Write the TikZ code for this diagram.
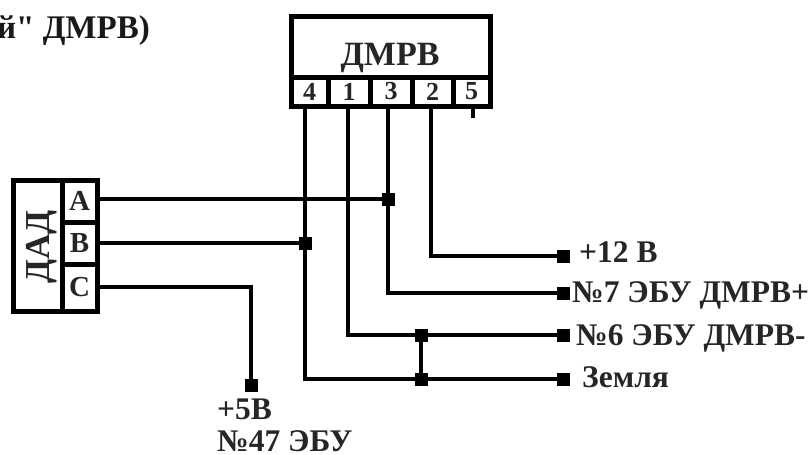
\documentclass[tikz,border=0pt]{standalone}
\usepackage{fontspec}
\setmainfont{Liberation Serif}
\newfontfamily\rawserif{Liberation Serif}
\begin{document}
\begin{tikzpicture}[x=1pt,y=-1pt,
  wire/.style={line width=4.7pt,line cap=butt,line join=miter,black},
  box/.style={draw=black,line width=5pt,inner sep=0pt,outer sep=0pt,anchor=north west,fill=white},
  pin/.style={box,font=\bfseries\fontsize{26}{26}\selectfont,text=black!85},
  dot/.style={fill=black,inner sep=0pt,outer sep=0pt,minimum size=13pt,shape=rectangle},
  lab/.style={font=\bfseries\fontsize{31.5}{33}\selectfont,text=black!85,anchor=base west,inner sep=0pt}]
\useasboundingbox (0,0) rectangle (812,455);
\node[font=\rawserif\bfseries\fontsize{33}{35}\selectfont,text=black!90,anchor=base east,inner sep=0pt] (title) at (150,38) {й" ДМРВ)};
% DMRV
\node[box,minimum width=199pt,minimum height=61pt] (dmrv) at (291,16) {};
\node[font=\bfseries\fontsize{34}{34}\selectfont,text=black!85,anchor=base,inner sep=0pt] (dmrvt) at (390,65) {ДМРВ};
\node[pin,minimum width=37pt,minimum height=29pt] (p4) at (291,77) {4};
\node[pin,minimum width=42pt,minimum height=29pt] (p1) at (328,77) {1};
\node[pin,minimum width=42pt,minimum height=29pt] (p3) at (370,77) {3};
\node[pin,minimum width=41pt,minimum height=29pt] (p2) at (412,77) {2};
\node[pin,minimum width=37pt,minimum height=29pt] (p5) at (453,77) {5};
% DAD
\node[box,minimum width=49pt,minimum height=131pt] (dadbody) at (13,180) {};
\node[font=\bfseries\fontsize{35}{35}\selectfont,text=black!85,rotate=90,anchor=base,inner sep=0pt] (dad) at (49,247) {ДАД};
\node[pin,font=\bfseries\fontsize{29}{29}\selectfont,minimum width=35pt,minimum height=42pt] (pa) at (62,180) {А};
\node[pin,font=\bfseries\fontsize{29}{29}\selectfont,minimum width=35pt,minimum height=42pt] (pb) at (62,222) {В};
\node[pin,font=\bfseries\fontsize{29}{29}\selectfont,minimum width=35pt,minimum height=47pt] (pc) at (62,264) {С};
% junctions
\node[dot] (ja) at (388,199) {};
\node[dot] (jb) at (305,243) {};
\node[dot] (j6) at (421,335) {};
\node[dot] (jg) at (421,379) {};
\node[dot] (t5) at (251,385) {};
\node[dot] (t12) at (563,256) {};
\node[dot] (t7) at (563,293) {};
\node[dot] (t6) at (563,335) {};
\node[dot] (tg) at (563,379) {};
\coordinate (s5) at (473,118);
% wires
\draw[wire] (pa.east |- ja) -- (ja);
\draw[wire] (pb.east |- jb) -- (jb);
\draw[wire] (pc.east) ++(0,-0.5) -| (t5);
\draw[wire] (p4.south -| jb) |- (tg);
\draw[wire] ([xshift=-1pt]p1.south) |- (t6);
\draw[wire] (p3.south -| ja) |- (t7);
\draw[wire] ([xshift=-1.5pt]p2.south) |- (t12);
\draw[wire] (j6) -- (jg);
\draw[wire] (p5.south -| s5) -- (s5);
% labels
\node[lab] (l12) at (579,262) {+12 В};
\node[lab] (l7) at (572,302) {№7 ЭБУ ДМРВ+};
\node[lab] (l6) at (576,345) {№6 ЭБУ ДМРВ-};
\node[lab] (lg) at (582,387) {Земля};
\node[lab] (l5) at (217,419) {+5В};
\node[lab] (l47) at (217,451) {№47 ЭБУ};
\end{tikzpicture}
\end{document}
